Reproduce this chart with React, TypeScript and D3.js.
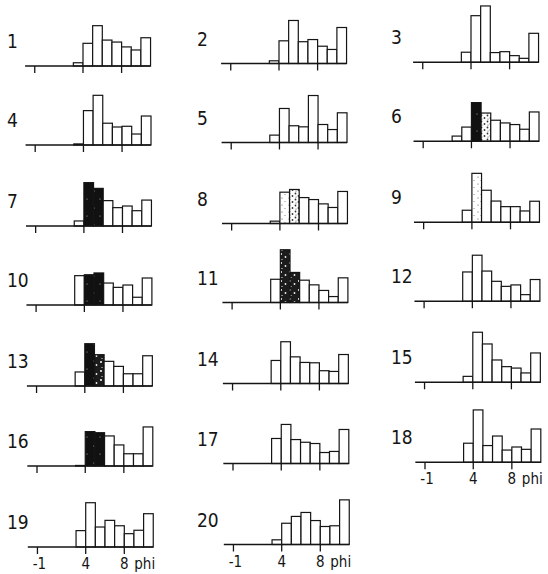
import * as d3 from "d3";

// bin lower edges in phi (each bin is 1 phi wide)
const binStarts = [2, 3, 4, 5, 6, 7, 8, 9, 10];

// weight percent per bin
const s1 = [0, 1.8, 12.6, 22.4, 14.4, 13.3, 10.6, 8.9, 15.7];
const s2 = [0, 1.5, 12.6, 23.9, 12.1, 13.3, 9.6, 7.8, 20.0];
const s3 = [0, 5.6, 25.9, 31.3, 5.4, 5.9, 3.7, 2.2, 16.1];
const s4 = [0, 0.6, 19.1, 27.6, 12.1, 10.0, 10.4, 6.1, 16.1];
const s5 = [0, 4.1, 18.9, 9.3, 8.7, 26.1, 10.0, 7.2, 16.5];
const s6 = [2.9, 7.9, 21.5, 15.7, 11.7, 10.2, 9.3, 6.7, 16.3];
const s7 = [0, 2.8, 24.1, 20.9, 14.1, 10.2, 11.1, 8.5, 14.4];
const s8 = [0, 1.3, 17.4, 18.9, 14.4, 13.3, 10.9, 8.9, 17.8];
const s9 = [0, 6.7, 27.2, 17.8, 11.8, 8.7, 8.7, 6.3, 11.7];
const s10 = [0, 16.3, 16.8, 17.8, 12.2, 9.8, 11.1, 4.3, 15.0];
const s11 = [0, 12.9, 29.3, 16.7, 12.4, 9.8, 6.7, 3.3, 13.7];
const s12 = [0, 16.3, 25.6, 16.8, 11.1, 8.3, 9.1, 3.7, 12.1];
const s13 = [0, 7.8, 23.5, 17.4, 13.7, 10.9, 6.8, 6.8, 16.8];
const s14 = [0, 12.8, 23.2, 14.8, 11.7, 11.5, 7.1, 6.7, 16.1];
const s15 = [0, 3.3, 27.8, 21.3, 12.4, 8.7, 7.9, 5.2, 16.3];
const s16 = [0, 0.3, 19.1, 18.5, 16.7, 11.7, 6.8, 6.8, 21.7];
const s17 = [0, 13.9, 21.7, 13.3, 11.8, 11.1, 6.1, 6.7, 18.9];
const s18 = [0, 10.6, 29.1, 9.3, 14.6, 6.8, 8.5, 7.2, 18.5];
const s19 = [0, 9.1, 24.6, 11.1, 14.8, 11.8, 7.4, 9.3, 18.5];
const s20 = [0, 2.6, 11.8, 15.6, 17.8, 13.3, 10.0, 10.4, 24.8];

const samples = [s1, s2, s3, s4, s5, s6, s7, s8, s9, s10,
  s11, s12, s13, s14, s15, s16, s17, s18, s19, s20];

// shaded bins: [sample number, bin start phi, shading]
const shaded: [number, number, string][] = [
  [6, 4, "dark"], [6, 5, "medium"],
  [7, 4, "dark"], [7, 5, "dark"],
  [8, 4, "light"], [8, 5, "medium"],
  [9, 4, "light"],
  [10, 4, "dark"], [10, 5, "dark"],
  [11, 4, "speckle"], [11, 5, "speckle"],
  [13, 4, "dark"], [13, 5, "speckle"],
  [16, 4, "dark"], [16, 5, "dark"],
];

const tickValues = [-1, 4, 8];
const tickLabelled = [18, 19, 20];

// layout of the scanned sheet
const colX4 = [83, 279, 471];
const colDy = [0, -2.5, -3.7];
const rowBase = [66, 145, 226, 305, 386, 466, 547];
const labelX = [7, 197, 391];
const pxPerPhi = 9.65;
const font = "'DejaVu Sans Condensed', 'DejaVu Sans', sans-serif";
const ink = "#151515";

export default function App() {
  return (
    <svg width={548} height={574} style={{ position: "absolute", left: 0, top: 0, background: "#fff" }}>
      <defs>
        <pattern id="dark" width="13" height="17" patternUnits="userSpaceOnUse">
          <rect width="13" height="17" fill="#111" />
          <circle cx="3" cy="4" r="0.6" fill="#ddd" />
          <circle cx="9" cy="12" r="0.5" fill="#ccc" />
        </pattern>
        <pattern id="speckle" width="9" height="9" patternUnits="userSpaceOnUse">
          <rect width="9" height="9" fill="#1c1c1c" />
          <circle cx="2" cy="2" r="1" fill="#fff" />
          <circle cx="6.5" cy="5" r="0.9" fill="#eee" />
          <circle cx="3" cy="7.5" r="0.6" fill="#fff" />
        </pattern>
        <pattern id="medium" width="6" height="6" patternUnits="userSpaceOnUse">
          <rect width="6" height="6" fill="#fff" />
          <circle cx="1.5" cy="1.5" r="0.9" fill="#333" />
          <circle cx="4.5" cy="4" r="0.9" fill="#333" />
          <circle cx="2" cy="5" r="0.6" fill="#555" />
        </pattern>
        <pattern id="light" width="7" height="7" patternUnits="userSpaceOnUse">
          <rect width="7" height="7" fill="#fff" />
          <circle cx="2" cy="2" r="0.6" fill="#555" />
          <circle cx="5" cy="5.5" r="0.5" fill="#666" />
        </pattern>
      </defs>
      {samples.map((values, i) => {
        const num = i + 1;
        const row = Math.floor(i / 3);
        const col = i % 3;
        const x4 = colX4[col] + row * 0.45;
        const base = rowBase[row] + colDy[col];
        const x = d3.scaleLinear().domain([4, 8]).range([x4, x4 + 4 * pxPerPhi]);
        const y = d3.scaleLinear().domain([0, 30]).range([base, base - 54]);
        return (
          <g key={num}>
            <text x={labelX[col]} y={base - 18} fontFamily={font} fontSize={19} fill={ink}>
              {num}
            </text>
            {binStarts.map((b, j) => {
              const v = values[j];
              if (v <= 0) return null;
              const sh = shaded.find((s) => s[0] === num && s[1] === b);
              return (
                <rect
                  key={b}
                  x={x(b)}
                  y={y(v)}
                  width={x(b + 1) - x(b)}
                  height={y(0) - y(v)}
                  fill={sh ? `url(#${sh[2]})` : "#fff"}
                  stroke={ink}
                  strokeWidth={1.2}
                />
              );
            })}
            <line x1={x(-2)} x2={x(11)} y1={base} y2={base} stroke={ink} strokeWidth={1.5} />
            {tickValues.map((t) => (
              <line key={t} x1={x(t)} x2={x(t)} y1={base} y2={base + 7} stroke={ink} strokeWidth={1.3} />
            ))}
            {tickLabelled.includes(num) && (
              <g fontFamily={font} fontSize={15} fill={ink}>
                <text x={x(-1) + 2} y={base + 22} textAnchor="middle">-1</text>
                <text x={x(4)} y={base + 22} textAnchor="middle">4</text>
                <text x={x(8)} y={base + 22} textAnchor="middle">8</text>
                <text x={x(8) + 10} y={base + 22}>phi</text>
              </g>
            )}
          </g>
        );
      })}
    </svg>
  );
}
